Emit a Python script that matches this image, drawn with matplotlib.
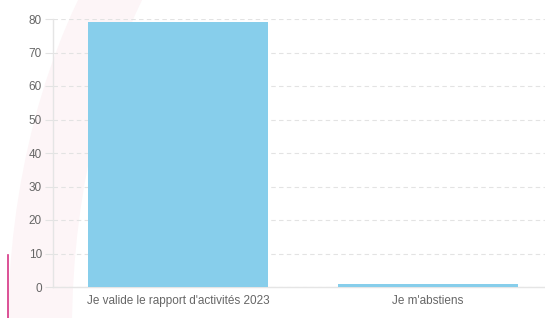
import matplotlib.pyplot as plt
from matplotlib.patches import Ellipse

categories = ["Je valide le rapport d'activités 2023", "Je m'abstiens"]
votes = [79, 1]
yticks = [0, 10, 20, 30, 40, 50, 60, 70, 80]

plt.rcParams['font.family'] = ['Liberation Sans', 'DejaVu Sans']

fig = plt.figure(figsize=(5.45, 3.18), dpi=100)
fig.patch.set_facecolor('white')

# faint decorative band in the background
bg = fig.add_axes([0, 0, 1, 1], zorder=-1)
bg.set_xlim(0, 545)
bg.set_ylim(318, 0)
bg.axis('off')
bg.add_patch(Ellipse((358, 330), 700, 1100, facecolor='#fdf5f7', edgecolor='none'))
bg.add_patch(Ellipse((422, 330), 700, 1100, facecolor='white', edgecolor='none'))
bg.plot([8, 8], [255, 318], color='#d63384', lw=1.2)

ax = fig.add_axes([53 / 545, 31 / 318, 492 / 545, 268 / 318])
ax.patch.set_alpha(0)
ax.bar(range(len(categories)), votes, width=0.72, color='#87ceeb', zorder=3)
ax.set_xlim(-0.5, 1.47)
ax.set_ylim(0, 80)
ax.set_yticks(yticks)
ax.set_xticks(range(len(categories)))
ax.set_xticklabels(categories)
ax.grid(axis='y', color='#e3e3e3', linestyle=(0, (4, 3)), lw=0.8, zorder=0)
for s in ['top', 'right']:
    ax.spines[s].set_visible(False)
for s in ['left', 'bottom']:
    ax.spines[s].set_color('#e5e5e5')
    ax.spines[s].set_linewidth(1)
ax.tick_params(axis='y', length=6, color='#e3e3e3', labelcolor='#666666', labelsize=8.5, pad=2)
ax.tick_params(axis='x', length=0, labelcolor='#666666', labelsize=8.5, pad=6)

plt.savefig('out.png', dpi=100)
